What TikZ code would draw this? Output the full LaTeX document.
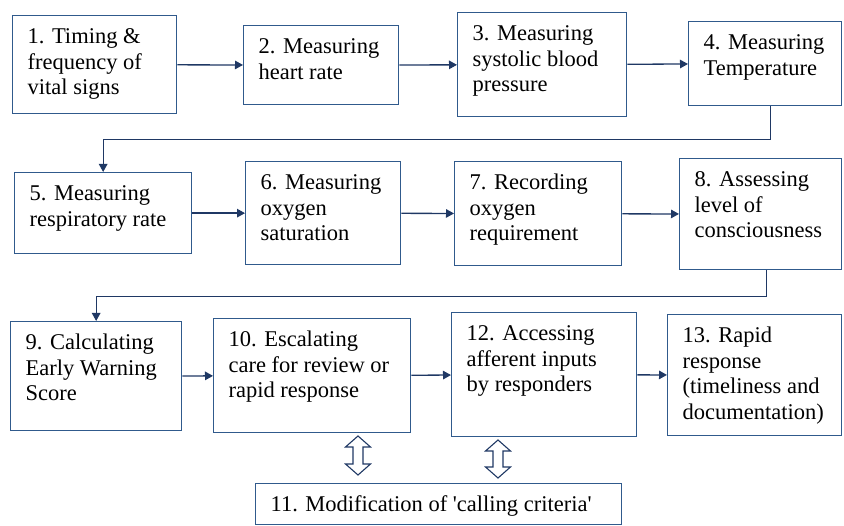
\documentclass[tikz,border=0pt]{standalone}
\usepackage{fontspec,tikz}
\usetikzlibrary{arrows.meta,calc}
\setmainfont{Liberation Serif}[Ligatures=TeXOff]
\definecolor{boxblue}{RGB}{48,90,140}
\definecolor{arrowblue}{RGB}{31,56,100}
\newcommand{\boxtext}[3]{\parbox[t][#2pt][t]{#1pt}{\rmfamily\fontsize{22.5}{25.5}\selectfont
  \raggedright\leftskip=15pt\vspace*{10.5pt}#3}}
\newcommand{\dblarrowat}[2]{\draw[dblarrow] (#1) -- ++(12.5,11) -- ++(-7.5,0) -- ($(#2)+(5,-11)$) -- ++(7.5,0)
  -- (#2) -- ++(-12.5,-11) -- ++(7.5,0) -- ($(#1)+(-5,11)$) -- ++(-7.5,0) -- cycle;}
\tikzset{
  stepbox/.style={draw=boxblue,line width=1.3pt,inner sep=0pt,anchor=north west,fill=white},
  flow/.style={draw=arrowblue,line width=1.3pt,-{Triangle[length=8pt,width=8.5pt]}},
  dblarrow/.style={draw=arrowblue,line width=1.1pt,fill=white,line join=miter}
}
\begin{document}
\begin{tikzpicture}[x=1pt,y=-1pt]
\path[use as bounding box] (0,0) rectangle (844,526);
% row 1
\node[stepbox] (b1) at (12,15) {\boxtext{164}{98}{\strut 1. Timing \&\par\strut frequency of\par\strut vital signs}};
\node[stepbox] (b2) at (243,25) {\boxtext{155}{79}{\strut 2. Measuring\par\strut heart rate}};
\node[stepbox] (b3) at (457,12) {\boxtext{169}{104}{\strut 3. Measuring\par\strut systolic blood\par\strut pressure}};
\node[stepbox] (b4) at (688,21) {\boxtext{153}{84}{\strut 4. Measuring\par\strut Temperature}};
% row 2
\node[stepbox] (b5) at (14,172) {\boxtext{177}{81}{\strut 5. Measuring\par\strut respiratory rate}};
\node[stepbox] (b6) at (245,161) {\boxtext{155}{103}{\strut 6. Measuring\par\strut oxygen\par\strut saturation}};
\node[stepbox] (b7) at (454,161) {\boxtext{167}{104}{\strut 7. Recording\par\strut oxygen\par\strut requirement}};
\node[stepbox] (b8) at (679,158) {\boxtext{162}{111}{\strut 8. Assessing\par\strut level of\par\strut consciousness}};
% row 3
\node[stepbox] (b9) at (10,321) {\boxtext{171}{109}{\strut 9. Calculating\par\strut Early Warning\par\strut Score}};
\node[stepbox] (b10) at (213,318) {\boxtext{197}{114}{\strut 10. Escalating\par\strut care for review or\par\strut rapid response}};
\node[stepbox] (b12) at (451,312) {\boxtext{185}{124}{\strut 12. Accessing\par\strut afferent inputs\par\strut by responders}};
\node[stepbox] (b13) at (667,314) {\boxtext{174}{121}{\strut 13. Rapid\par\strut response\par\strut (timeliness and\par\strut documentation)}};
\node[stepbox] (b11) at (255,483) {\boxtext{366}{41}{\strut 11. Modification of 'calling criteria'}};
% connectors
\draw[flow] (b1) -- (b2);
\draw[flow] (b2) -- (b3);
\draw[flow] (b3) -- (b4);
\draw[flow] ([xshift=5]b4.south) -- ++(0,33) -| (b5.north);
\draw[flow] (b5) -- (b6);
\draw[flow] (b6) -- (b7);
\draw[flow] (b7) -- (b8);
\draw[flow] ([xshift=6]b8.south) -- ++(0,26) -| (b9.north);
\draw[flow] (b9) -- (b10);
\draw[flow] (b10) -- (b12);
\draw[flow] (b12) -- (b13);
% links to box 11
\coordinate (d1top) at (358,436);
\coordinate (d1bot) at (358,475);
\coordinate (d2top) at (498,440);
\coordinate (d2bot) at (498,478);
\dblarrowat{d1top}{d1bot}
\dblarrowat{d2top}{d2bot}
\end{tikzpicture}
\end{document}
